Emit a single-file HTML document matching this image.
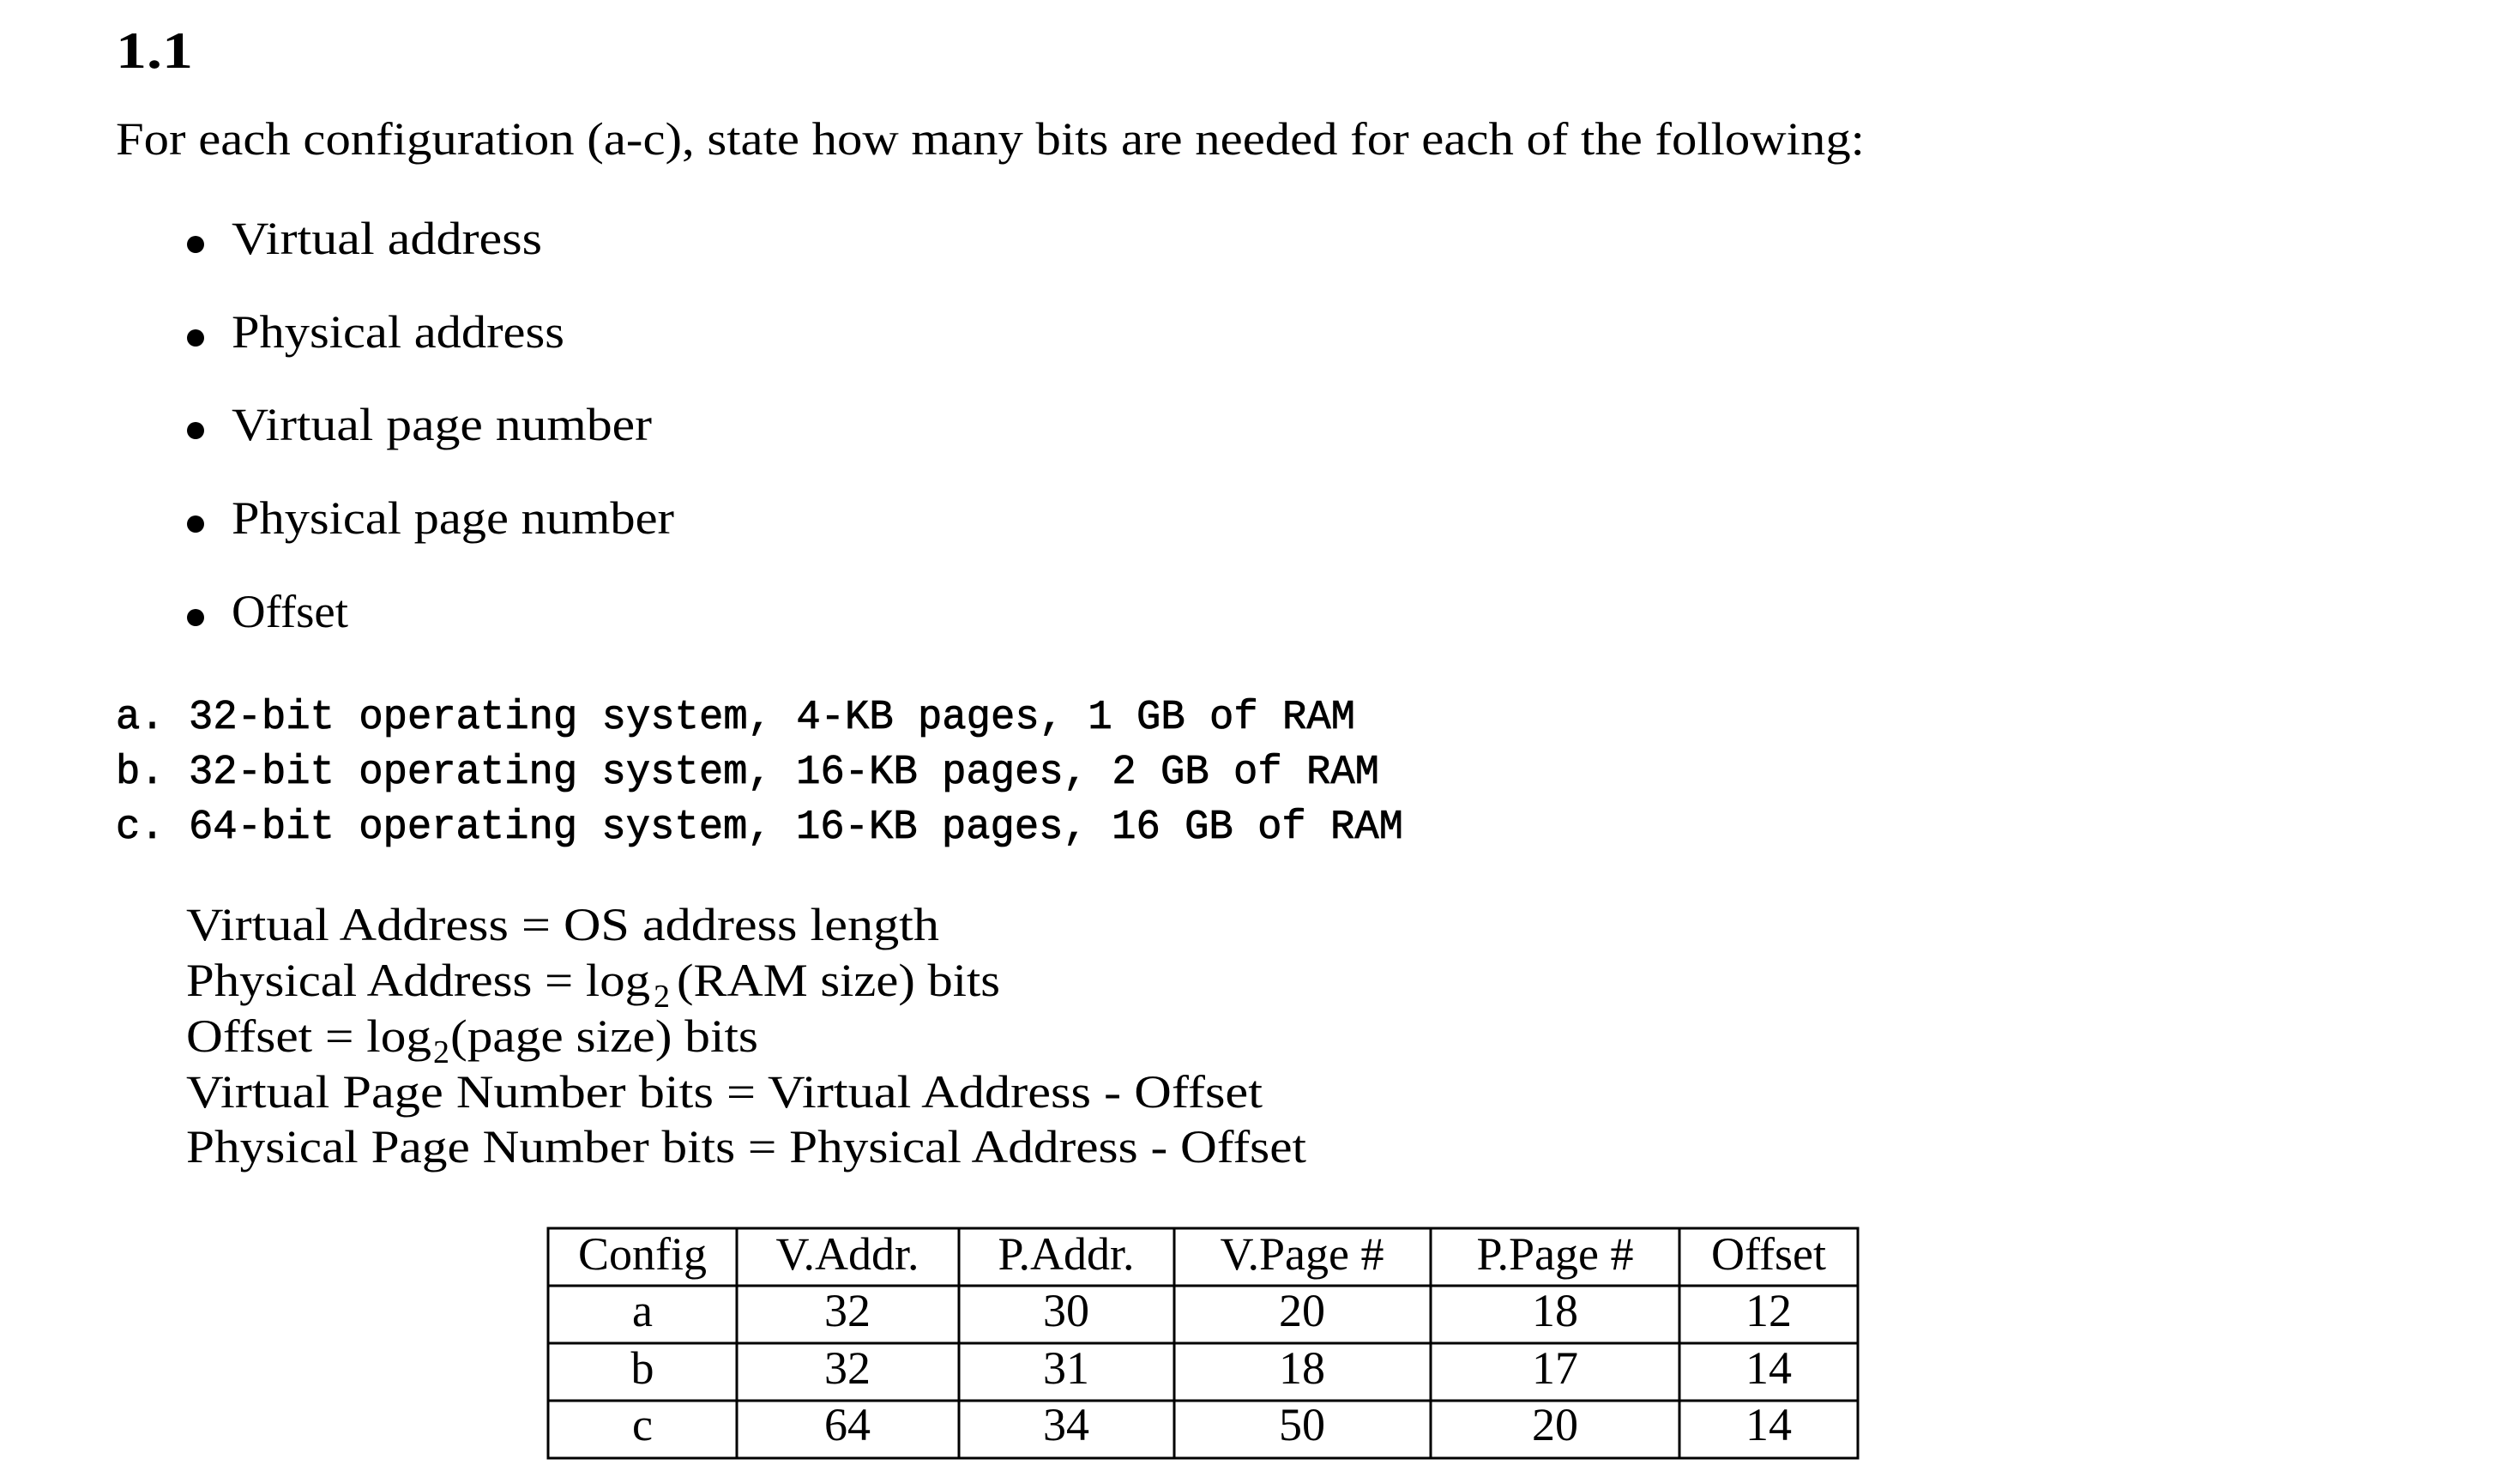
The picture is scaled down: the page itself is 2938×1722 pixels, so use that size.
<!DOCTYPE html>
<html><head><meta charset="utf-8"><style>
html,body{margin:0;padding:0;background:#fff;width:2938px;height:1722px;overflow:hidden}
svg{display:block}
.s{font-family:"Liberation Serif",serif;font-size:54px;fill:#000}
.m{font-family:"Liberation Mono",monospace;font-size:48px;fill:#000}
.sub{font-family:"Liberation Serif",serif;font-size:38px;fill:#000}
</style></head><body>
<svg width="2938" height="1722" xmlns="http://www.w3.org/2000/svg">
<text x="135" y="79" style="font-family:'Liberation Serif',serif;font-size:60px;font-weight:bold" textLength="90" lengthAdjust="spacingAndGlyphs">1.1</text>
<text class="s" x="135" y="180" textLength="2039" lengthAdjust="spacingAndGlyphs">For each configuration (a-c), state how many bits are needed for each of the following:</text>
<g>
<circle cx="228" cy="285" r="10"/><text class="s" x="270" y="296" textLength="362" lengthAdjust="spacingAndGlyphs">Virtual address</text>
<circle cx="228" cy="394" r="10"/><text class="s" x="270" y="405" textLength="388" lengthAdjust="spacingAndGlyphs">Physical address</text>
<circle cx="228" cy="502" r="10"/><text class="s" x="270" y="513" textLength="490" lengthAdjust="spacingAndGlyphs">Virtual page number</text>
<circle cx="228" cy="611" r="10"/><text class="s" x="270" y="622" textLength="516" lengthAdjust="spacingAndGlyphs">Physical page number</text>
<circle cx="228" cy="720" r="10"/><text class="s" x="270" y="731" textLength="136" lengthAdjust="spacingAndGlyphs">Offset</text>
</g>
<g stroke="#000" stroke-width="0.8">
<text class="m" x="135" y="849" textLength="1445" lengthAdjust="spacingAndGlyphs">a. 32-bit operating system, 4-KB pages, 1 GB of RAM</text>
<text class="m" x="135" y="913" textLength="1473" lengthAdjust="spacingAndGlyphs">b. 32-bit operating system, 16-KB pages, 2 GB of RAM</text>
<text class="m" x="135" y="977" textLength="1501" lengthAdjust="spacingAndGlyphs">c. 64-bit operating system, 16-KB pages, 16 GB of RAM</text>
</g>

<text class="s" x="217" y="1096" textLength="878" lengthAdjust="spacingAndGlyphs">Virtual Address = OS address length</text>
<text class="s" x="217" y="1161" textLength="541" lengthAdjust="spacingAndGlyphs">Physical Address = log</text>
<text class="sub" x="762" y="1174">2</text>
<text class="s" x="789" y="1161" textLength="377" lengthAdjust="spacingAndGlyphs">(RAM size) bits</text>
<text class="s" x="217" y="1226" textLength="286" lengthAdjust="spacingAndGlyphs">Offset = log</text>
<text class="sub" x="505" y="1239">2</text>
<text class="s" x="525" y="1226" textLength="359" lengthAdjust="spacingAndGlyphs">(page size) bits</text>
<text class="s" x="217" y="1291" textLength="1255" lengthAdjust="spacingAndGlyphs">Virtual Page Number bits = Virtual Address - Offset</text>
<text class="s" x="217" y="1355" textLength="1306" lengthAdjust="spacingAndGlyphs">Physical Page Number bits = Physical Address - Offset</text>

<g stroke="#000" stroke-width="3" fill="none">
<rect x="639" y="1432" width="1527" height="268"/>
<line x1="639" y1="1499" x2="2166" y2="1499"/>
<line x1="639" y1="1566" x2="2166" y2="1566"/>
<line x1="639" y1="1633" x2="2166" y2="1633"/>
<line x1="859" y1="1432" x2="859" y2="1700"/>
<line x1="1118" y1="1432" x2="1118" y2="1700"/>
<line x1="1369" y1="1432" x2="1369" y2="1700"/>
<line x1="1668" y1="1432" x2="1668" y2="1700"/>
<line x1="1958" y1="1432" x2="1958" y2="1700"/>
</g>
<g class="s" text-anchor="middle">
<text class="s" x="749" y="1480">Config</text>
<text class="s" x="988" y="1480">V.Addr.</text>
<text class="s" x="1243" y="1480">P.Addr.</text>
<text class="s" x="1518" y="1480">V.Page #</text>
<text class="s" x="1813" y="1480">P.Page #</text>
<text class="s" x="2062" y="1480">Offset</text>
<text class="s" x="749" y="1546">a</text><text class="s" x="988" y="1546">32</text><text class="s" x="1243" y="1546">30</text><text class="s" x="1518" y="1546">20</text><text class="s" x="1813" y="1546">18</text><text class="s" x="2062" y="1546">12</text>
<text class="s" x="749" y="1613">b</text><text class="s" x="988" y="1613">32</text><text class="s" x="1243" y="1613">31</text><text class="s" x="1518" y="1613">18</text><text class="s" x="1813" y="1613">17</text><text class="s" x="2062" y="1613">14</text>
<text class="s" x="749" y="1679">c</text><text class="s" x="988" y="1679">64</text><text class="s" x="1243" y="1679">34</text><text class="s" x="1518" y="1679">50</text><text class="s" x="1813" y="1679">20</text><text class="s" x="2062" y="1679">14</text>
</g>
</svg>
</body></html>
